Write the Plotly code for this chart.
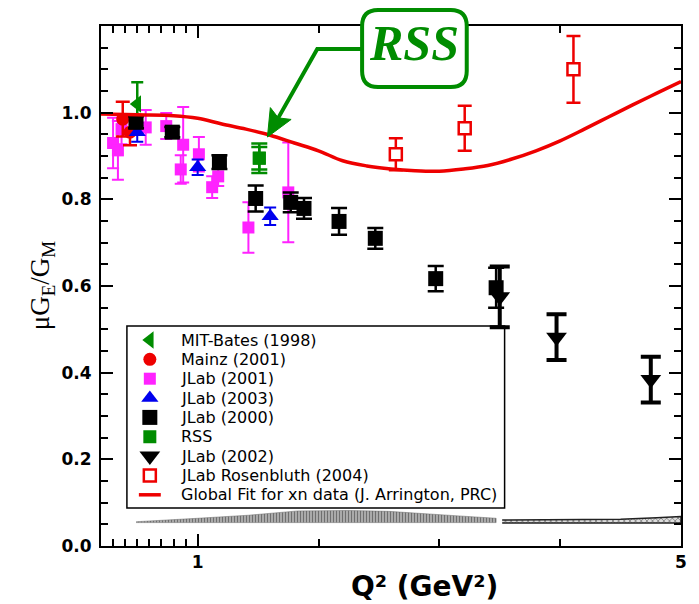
import math
import plotly.graph_objects as go

# ---------------------------------------------------------------------------
# Proton form factor ratio mu*GE/GM versus Q^2 (GeV^2)
# ---------------------------------------------------------------------------
mit_q2 = [0.50]
mit_ratio = [1.020]
mit_err = [0.050]

mainz_q2 = [0.38, 0.44]
mainz_ratio = [0.985, 0.955]
mainz_err = [0.040, 0.030]

jlab01_q2 = [0.30, 0.34, 0.37, 0.57, 0.74, 0.86, 0.88, 1.01, 1.12, 1.17, 1.42, 1.75]
jlab01_ratio = [0.930, 0.913, 0.962, 0.966, 0.969, 0.869, 0.926, 0.904, 0.828, 0.853, 0.735, 0.816]
jlab01_err = [0.058, 0.068, 0.035, 0.040, 0.030, 0.033, 0.087, 0.040, 0.025, 0.022, 0.058, 0.115]

jlab03_q2 = [0.50, 1.00, 1.60]
jlab03_ratio = [0.955, 0.874, 0.761]
jlab03_err = [0.022, 0.018, 0.020]

jlab00_q2 = [0.49, 0.79, 1.18, 1.48, 1.77, 1.88, 2.17, 2.47, 2.97, 3.47]
jlab00_ratio = [0.978, 0.955, 0.886, 0.802, 0.793, 0.779, 0.749, 0.710, 0.617, 0.596]
jlab00_err = [0.014, 0.012, 0.016, 0.030, 0.023, 0.024, 0.031, 0.024, 0.029, 0.046]

rss_q2 = [1.51]
rss_ratio = [0.895]
rss_err_stat = [0.026]
rss_err_total = [0.034]

jlab02_q2 = [3.50, 3.97, 4.75]
jlab02_ratio = [0.575, 0.482, 0.384]
jlab02_err = [0.070, 0.053, 0.053]

rosen_q2 = [2.64, 3.21, 4.11]
rosen_ratio = [0.904, 0.964, 1.100]
rosen_err = [0.037, 0.052, 0.077]

# global fit curve
fit_q2 = [0.2, 0.5, 0.8, 1.0, 1.2, 1.4, 1.6, 1.8, 2.0, 2.2, 2.4, 2.6, 2.8,
          3.0, 3.2, 3.4, 3.6, 3.8, 4.0, 4.2, 4.4, 4.6, 4.8, 5.0]
fit_ratio = [0.997, 0.995, 0.993, 0.987, 0.974, 0.962, 0.948, 0.930, 0.912, 0.889,
             0.877, 0.870, 0.866, 0.865, 0.870, 0.878, 0.893, 0.912, 0.935, 0.962,
             0.990, 1.018, 1.045, 1.072]

# systematic uncertainty bands along the bottom
band1_q2 = [0.49, 0.80, 1.00, 1.42, 1.83, 2.25, 2.58, 3.13, 3.47]
band1_low = [0.054, 0.054, 0.054, 0.054, 0.054, 0.054, 0.054, 0.054, 0.054]
band1_high = [0.056, 0.060, 0.064, 0.071, 0.081, 0.082, 0.080, 0.070, 0.064]

band2_q2 = [3.52, 4.00, 4.50, 4.80, 5.00]
band2_low = [0.053, 0.053, 0.053, 0.053, 0.053]
band2_high = [0.060, 0.061, 0.062, 0.065, 0.068]

x_tickvals = [1, 5]
x_ticktext = ["1", "5"]
x_minor = [0.3, 0.4, 0.5, 0.6, 0.7, 0.8, 0.9, 2, 3, 4]
y_tickvals = [0.0, 0.2, 0.4, 0.6, 0.8, 1.0]
y_ticktext = ["0.0", "0.2", "0.4", "0.6", "0.8", "1.0"]

legend_labels = ["MIT-Bates (1998)", "Mainz (2001)", "JLab (2001)", "JLab (2003)",
                 "JLab (2000)", "RSS", "JLab (2002)", "JLab Rosenbluth (2004)",
                 "Global Fit for xn data (J. Arrington, PRC)"]

# ---------------------------------------------------------------------------
# page geometry
W, H = 699, 604
ML, MR, MT, MB = 101, 16, 26, 58
PW, PH = W - ML - MR, H - MT - MB


def fx(xp):
    """page pixel column -> paper x"""
    return (xp - ML) / PW


def fy(yp):
    """page pixel row -> paper y"""
    return (H - MB - yp) / PH


GREEN = "#008c00"
RED = "#ee0000"
MAGENTA = "#ff22ff"
BLUE = "#0000ee"

styles = [
    dict(marker=dict(symbol="triangle-left", size=15, color=GREEN), ec=GREEN, et=2.5, ew=6),
    dict(marker=dict(symbol="circle", size=13, color=RED), ec=RED, et=2.5, ew=7),
    dict(marker=dict(symbol="square", size=12, color=MAGENTA), ec=MAGENTA, et=2, ew=6),
    dict(marker=dict(symbol="triangle-up", size=15, color=BLUE), ec=BLUE, et=2, ew=6),
    dict(marker=dict(symbol="square", size=15, color="black"), ec="black", et=2.5, ew=8),
    dict(marker=dict(symbol="square", size=13, color=GREEN), ec=GREEN, et=2.5, ew=8),
    dict(marker=dict(symbol="triangle-down", size=18, color="black"), ec="black", et=4, ew=10),
    dict(marker=dict(symbol="square", size=12, color="white", line=dict(color=RED, width=2.5)),
         ec=RED, et=2.5, ew=7),
]

series = [
    (mit_q2, mit_ratio, mit_err),
    (mainz_q2, mainz_ratio, mainz_err),
    (jlab01_q2, jlab01_ratio, jlab01_err),
    (jlab03_q2, jlab03_ratio, jlab03_err),
    (jlab00_q2, jlab00_ratio, jlab00_err),
    (rss_q2, rss_ratio, rss_err_total),
    (jlab02_q2, jlab02_ratio, jlab02_err),
    (rosen_q2, rosen_ratio, rosen_err),
]

fig = go.Figure()

# bands
fig.add_trace(go.Scatter(
    x=band1_q2 + band1_q2[::-1], y=band1_high + band1_low[::-1],
    fill="toself", mode="lines", line=dict(width=0.5, color="#666666"),
    fillcolor="#888888",
    fillpattern=dict(shape="|", size=3, solidity=0.5, fgcolor="#222222", bgcolor="#bdbdbd"),
    hoverinfo="skip", showlegend=False))
fig.add_trace(go.Scatter(
    x=band2_q2 + band2_q2[::-1], y=band2_high + band2_low[::-1],
    fill="toself", mode="lines", line=dict(width=1.5, color="#222222"),
    fillcolor="#999999",
    fillpattern=dict(shape="x", size=4, solidity=0.4, fgcolor="#333333", bgcolor="#dddddd"),
    hoverinfo="skip", showlegend=False))

# data points
order = [2, 1, 0, 3, 4, 5, 6, 7]
for i in order:
    xs, ys, es = series[i]
    st = styles[i]
    fig.add_trace(go.Scatter(
        x=xs, y=ys, mode="markers", name=legend_labels[i],
        marker=st["marker"],
        error_y=dict(type="data", array=es, visible=True, color=st["ec"],
                     thickness=st["et"], width=st["ew"]),
        showlegend=False))
    if i == 5:
        # inner (statistical) error bar of the RSS point
        fig.add_trace(go.Scatter(
            x=rss_q2, y=rss_ratio, mode="markers", marker=st["marker"],
            error_y=dict(type="data", array=rss_err_stat, visible=True, color=GREEN,
                         thickness=2.5, width=8),
            showlegend=False))

# global fit
fig.add_trace(go.Scatter(x=fit_q2, y=fit_ratio, mode="lines",
                         line=dict(color=RED, width=3.5, shape="spline"),
                         name=legend_labels[-1], showlegend=False))

# ---------------------------------------------------------------------------
# hand-placed legend box
LEG_X0, LEG_X1, LEG_Y0, LEG_Y1 = 127, 506, 326, 508
ROW0, ROW_STEP = 340, 19.35
SYM_X, TXT_X = 150, 179

shapes = [dict(type="rect", xref="paper", yref="paper",
               x0=fx(LEG_X0), x1=fx(LEG_X1), y0=fy(LEG_Y1), y1=fy(LEG_Y0),
               line=dict(color="black", width=1.5), fillcolor="white", layer="below")]

annotations = []
for k, lab in enumerate(legend_labels):
    yrow = ROW0 + k * ROW_STEP
    annotations.append(dict(
        xref="paper", yref="paper", x=fx(TXT_X), y=fy(yrow), xanchor="left", yanchor="middle",
        text=lab, showarrow=False,
        font=dict(family="DejaVu Sans", size=16, color="black")))
    if k < len(styles):
        st = styles[k]
        fig.add_trace(go.Scatter(
            x=[fx(SYM_X)], y=[fy(yrow)], xaxis="x2", yaxis="y2", mode="markers",
            marker=st["marker"], cliponaxis=False, showlegend=False, hoverinfo="skip"))
    else:
        shapes.append(dict(type="line", xref="paper", yref="paper",
                           x0=fx(SYM_X - 11), x1=fx(SYM_X + 11), y0=fy(yrow), y1=fy(yrow),
                           line=dict(color=RED, width=3.5)))

# ---------------------------------------------------------------------------
# "RSS" call-out with a rounded frame and an elbow arrow
BX0, BX1, BY0, BY1, RAD = 363, 468, 10, 87, 16


def rounded_rect(x0, x1, y0, y1, r):
    pts = [
        f"M {fx(x0 + r)},{fy(y0)}",
        f"L {fx(x1 - r)},{fy(y0)}",
        f"Q {fx(x1)},{fy(y0)} {fx(x1)},{fy(y0 + r)}",
        f"L {fx(x1)},{fy(y1 - r)}",
        f"Q {fx(x1)},{fy(y1)} {fx(x1 - r)},{fy(y1)}",
        f"L {fx(x0 + r)},{fy(y1)}",
        f"Q {fx(x0)},{fy(y1)} {fx(x0)},{fy(y1 - r)}",
        f"L {fx(x0)},{fy(y0 + r)}",
        f"Q {fx(x0)},{fy(y0)} {fx(x0 + r)},{fy(y0)}",
        "Z",
    ]
    return " ".join(pts)


shapes.append(dict(type="path", xref="paper", yref="paper",
                   path=rounded_rect(BX0, BX1, BY0, BY1, RAD),
                   line=dict(color=GREEN, width=4), fillcolor="white", layer="above"))

# elbow arrow: horizontal run from the frame, then a diagonal down to the curve
ELBOW_X, ELBOW_Y = 318, 49
TIP_X, TIP_Y = 268, 137
HEAD_LEN, HEAD_HALF, HEAD_NOTCH = 27, 12, 5

dx, dy = TIP_X - ELBOW_X, TIP_Y - ELBOW_Y
dl = math.hypot(dx, dy)
ux, uy = dx / dl, dy / dl
nx, ny = -uy, ux
base_x, base_y = TIP_X - HEAD_LEN * ux, TIP_Y - HEAD_LEN * uy
notch_x, notch_y = base_x + HEAD_NOTCH * ux, base_y + HEAD_NOTCH * uy

shapes.append(dict(type="path", xref="paper", yref="paper",
                   path=(f"M {fx(BX0)},{fy(ELBOW_Y)} L {fx(ELBOW_X)},{fy(ELBOW_Y)} "
                         f"L {fx(notch_x + 2 * ux)},{fy(notch_y + 2 * uy)}"),
                   line=dict(color=GREEN, width=4), layer="above"))
shapes.append(dict(type="path", xref="paper", yref="paper",
                   path=(f"M {fx(TIP_X)},{fy(TIP_Y)} "
                         f"L {fx(base_x + HEAD_HALF * nx)},{fy(base_y + HEAD_HALF * ny)} "
                         f"L {fx(notch_x)},{fy(notch_y)} "
                         f"L {fx(base_x - HEAD_HALF * nx)},{fy(base_y - HEAD_HALF * ny)} Z"),
                   line=dict(color=GREEN, width=1), fillcolor=GREEN, layer="above"))

annotations.append(dict(
    xref="paper", yref="paper", x=fx((BX0 + BX1) / 2), y=fy(43), xanchor="center", yanchor="middle",
    text="RSS", showarrow=False,
    font=dict(family="Liberation Serif", size=50, color=GREEN, weight="bold", style="italic")))

# axis titles
annotations.append(dict(
    xref="paper", yref="paper", x=fx(426), y=fy(586), xanchor="center", yanchor="middle",
    text="Q² (GeV²)", showarrow=False,
    font=dict(family="DejaVu Sans", size=28, color="black", weight="bold")))
annotations.append(dict(
    xref="paper", yref="paper", x=fx(42), y=fy(285), xanchor="center", yanchor="middle",
    text="μG<sub>E</sub>/G<sub>M</sub>", textangle=-90, showarrow=False,
    font=dict(family="Liberation Serif", size=27, color="black")))

tickfont = dict(family="DejaVu Sans", size=17, color="black", weight="bold")

fig.update_layout(
    width=W, height=H,
    margin=dict(l=ML, r=MR, t=MT, b=MB, pad=0),
    paper_bgcolor="white", plot_bgcolor="white",
    showlegend=False,
    xaxis=dict(range=[0.2, 5], tickmode="array", tickvals=x_tickvals, ticktext=x_ticktext,
               ticks="inside", ticklen=12, tickwidth=2, tickcolor="black",
               showline=True, linewidth=2, linecolor="black", mirror="allticks",
               showgrid=False, zeroline=False, tickfont=tickfont, ticklabelstandoff=0,
               minor=dict(tickmode="array", tickvals=x_minor, ticks="inside", ticklen=7,
                          tickwidth=1.5, tickcolor="black", showgrid=False)),
    yaxis=dict(range=[0, 1.2], tickmode="array", tickvals=y_tickvals, ticktext=y_ticktext,
               ticks="inside", ticklen=12, tickwidth=2, tickcolor="black",
               showline=True, linewidth=2, linecolor="black", mirror="allticks",
               showgrid=False, zeroline=False, tickfont=tickfont, ticklabelstandoff=4,
               minor=dict(dtick=0.05, tick0=0, ticks="inside", ticklen=7,
                          tickwidth=1.5, tickcolor="black", showgrid=False)),
    xaxis2=dict(overlaying="x", range=[0, 1], visible=False, fixedrange=True),
    yaxis2=dict(overlaying="y", range=[0, 1], visible=False, fixedrange=True),
    shapes=shapes,
    annotations=annotations,
)

fig.write_html("out.html")
